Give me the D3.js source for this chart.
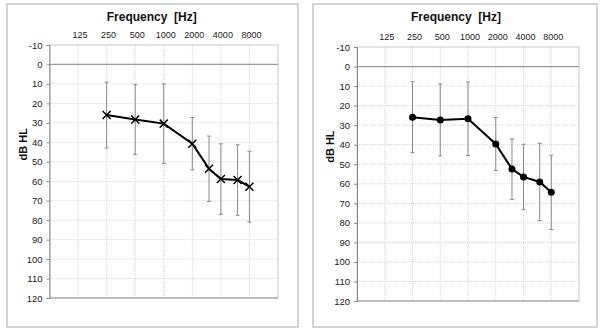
<!DOCTYPE html>
<html>
<head>
<meta charset="utf-8">
<script src="https://cdn.jsdelivr.net/npm/d3@7"></script>
<style>
  body { margin: 0; background: #fff; }
  text { font-family: "Liberation Sans", Arial, sans-serif; }
</style>
</head>
<body>
<svg id="chart" width="600" height="332"></svg>
<script>
// audiogram data
const freqs = [250, 500, 1000, 2000, 3000, 4000, 6000, 8000];
const freqLabels = [125, 250, 500, 1000, 2000, 4000, 8000];
const dbTicks = d3.range(-10, 121, 10);

// left panel (crosses)
const meanLeft = [26, 28.3, 30.4, 40.7, 53.6, 58.9, 59.4, 62.8];
const sdLeft = [16.9, 17.9, 20.4, 13.5, 16.8, 18.1, 18.1, 18.2];

// right panel (dots)
const meanRight = [25.9, 27.3, 26.7, 39.6, 52.5, 56.5, 59.1, 64.4];
const sdRight = [18.2, 18.4, 18.8, 13.6, 15.5, 16.7, 19.8, 19];

const svg = d3.select("#chart");

function drawPanel(box, plot, means, sds, marker) {
    let g = svg.append("g");

    // outer frame
    g.append("rect")
        .attr("x", box.x).attr("y", box.y)
        .attr("width", box.w).attr("height", box.h)
        .attr("fill", "#fff")
        .attr("stroke", "#b8b8b8")
        .attr("stroke-width", 1.2);

    let x = d3.scaleLog().base(2)
        .domain([62.5, 16000])
        .range([plot.x, plot.x + plot.w]);

    let y = d3.scaleLinear()
        .domain([-10, 120])
        .range([plot.y, plot.y + plot.h]);

    // grid
    g.selectAll(".hgrid").data(dbTicks.filter(d => d !== 0 && d !== 120 && d !== -10))
        .enter().append("line")
        .attr("x1", plot.x).attr("x2", plot.x + plot.w)
        .attr("y1", d => y(d)).attr("y2", d => y(d))
        .attr("stroke", "#d4d4d4")
        .attr("stroke-dasharray", "1,1");

    g.selectAll(".vgrid").data(freqLabels)
        .enter().append("line")
        .attr("x1", d => x(d)).attr("x2", d => x(d))
        .attr("y1", plot.y).attr("y2", plot.y + plot.h)
        .attr("stroke", "#d4d4d4")
        .attr("stroke-dasharray", "1,1");

    // plot border
    g.append("rect")
        .attr("x", plot.x).attr("y", plot.y)
        .attr("width", plot.w).attr("height", plot.h)
        .attr("fill", "none")
        .attr("stroke", "#c8c8c8");

    // 0 dB reference line
    g.append("line")
        .attr("x1", plot.x).attr("x2", plot.x + plot.w)
        .attr("y1", y(0)).attr("y2", y(0))
        .attr("stroke", "#999")
        .attr("stroke-width", 1.2);

    // bottom line
    g.append("line")
        .attr("x1", plot.x).attr("x2", plot.x + plot.w)
        .attr("y1", y(120)).attr("y2", y(120))
        .attr("stroke", "#999");

    // y axis
    let yAxis = g.append("g")
        .attr("transform", `translate(${plot.x}, 0)`)
        .call(d3.axisLeft(y).tickValues(dbTicks).tickFormat(d => String(d))
              .tickSize(3).tickPadding(4));
    yAxis.select(".domain").attr("stroke", "#888");
    yAxis.selectAll(".tick line").attr("stroke", "#888");
    yAxis.selectAll("text")
        .style("font-size", "9.5px")
        .attr("fill", "#222");

    // frequency labels on top
    g.selectAll(".flab").data(freqLabels)
        .enter().append("text")
        .attr("x", d => x(d) + 2)
        .attr("y", plot.y - 7)
        .style("text-anchor", "middle")
        .style("font-size", "9px")
        .attr("fill", "#222")
        .text(d => d);

    // titles
    g.append("text")
        .attr("x", plot.x + plot.w / 2 - 12)
        .attr("y", box.y + 17)
        .style("text-anchor", "middle")
        .style("font-size", "12px")
        .style("font-weight", "bold")
        .style("white-space", "pre")
        .attr("fill", "#111")
        .text("Frequency  [Hz]");

    g.append("text")
        .attr("transform", `translate(${plot.x - 23}, ${y(41)}) rotate(-90)`)
        .style("text-anchor", "middle")
        .style("font-size", "11px")
        .style("font-weight", "bold")
        .attr("fill", "#111")
        .text("dB HL");

    // error bars
    let data = freqs.map((f, i) => ({ f: f, m: means[i], sd: sds[i] }));
    let eb = g.selectAll(".eb").data(data).enter().append("g")
        .attr("stroke", "#8a8a8a")
        .attr("stroke-width", 1);
    eb.append("line")
        .attr("x1", d => x(d.f)).attr("x2", d => x(d.f))
        .attr("y1", d => y(d.m - d.sd)).attr("y2", d => y(d.m + d.sd));
    eb.append("line")
        .attr("x1", d => x(d.f) - 2).attr("x2", d => x(d.f) + 2)
        .attr("y1", d => y(d.m - d.sd)).attr("y2", d => y(d.m - d.sd));
    eb.append("line")
        .attr("x1", d => x(d.f) - 2).attr("x2", d => x(d.f) + 2)
        .attr("y1", d => y(d.m + d.sd)).attr("y2", d => y(d.m + d.sd));

    // mean line
    let line = d3.line().x(d => x(d.f)).y(d => y(d.m));
    g.append("path")
        .datum(data)
        .attr("d", line)
        .attr("fill", "none")
        .attr("stroke", "#000")
        .attr("stroke-width", 2);

    if (marker === "cross") {
        g.selectAll(".mk").data(data).enter().append("path")
            .attr("transform", d => `translate(${x(d.f)}, ${y(d.m)})`)
            .attr("d", "M-4,-4L4,4M-4,4L4,-4")
            .attr("stroke", "#000")
            .attr("stroke-width", 1.5);
    } else {
        g.selectAll(".mk").data(data).enter().append("circle")
            .attr("cx", d => x(d.f))
            .attr("cy", d => y(d.m))
            .attr("r", 3.5)
            .attr("fill", "#000");
    }
}

drawPanel({ x: 7, y: 4, w: 291, h: 323 }, { x: 49.5, y: 45, w: 228.5, h: 253 },
          meanLeft, sdLeft, "cross");
drawPanel({ x: 313, y: 4, w: 284, h: 323 }, { x: 357, y: 47, w: 222, h: 254 },
          meanRight, sdRight, "dot");
</script>
</body>
</html>
